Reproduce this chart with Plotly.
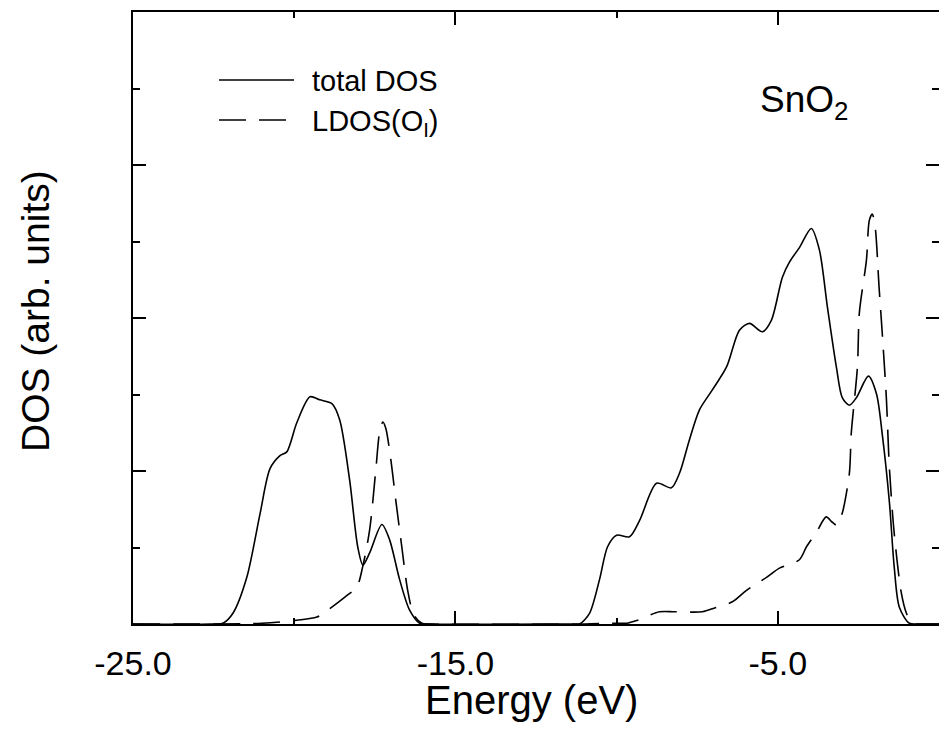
import plotly.graph_objects as go

# ---- data ----
total_energy = [-25.0, -22.6, -22.21, -21.90, -21.47, -21.06, -20.75, -20.44, -20.23, -19.92,
                -19.51, -19.21, -18.83, -18.59, -18.28, -18.03, -17.87, -17.66, -17.28,
                -17.04, -16.73, -16.42, -16.11, -15.8, -11.4,
                -11.15, -10.84, -10.53, -10.28, -10.0, -9.60, -9.29, -8.76, -8.30, -8.05,
                -7.74, -7.43, -7.03, -6.59, -6.19, -5.88, -5.48, -5.20, -4.86, -4.64,
                -4.33, -3.96, -3.71, -3.46, -3.18, -3.0, -2.78, -2.56, -2.19, -1.94,
                -1.76, -1.54, -1.39, -1.23, -0.92, -0.6, 0.0]
total_dos = [0.0, 0.0, 0.01, 0.14, 0.61, 1.44, 2.03, 2.20, 2.25, 2.63,
             2.97, 2.93, 2.88, 2.67, 1.88, 1.01, 0.77, 0.93, 1.30,
             1.10, 0.58, 0.18, 0.01, 0.0, 0.0,
             0.0, 0.14, 0.58, 1.01, 1.16, 1.14, 1.35, 1.84, 1.78, 1.97,
             2.41, 2.80, 3.06, 3.36, 3.84, 3.93, 3.82, 3.97, 4.53, 4.73,
             4.92, 5.17, 4.89, 4.14, 3.35, 2.96, 2.86, 2.96, 3.24, 3.01,
             2.48, 1.60, 0.75, 0.22, 0.01, 0.0, 0.0]

ldos_energy = [-25.0, -21.0, -19.92, -19.30, -18.96, -18.37, -18.06, -17.87, -17.66, -17.47,
               -17.35, -17.25, -17.16, -17.0, -16.85, -16.66, -16.48, -16.29, -16.04, -15.8,
               -11.0, -10.13, -9.69, -9.35, -8.67, -8.20, -7.34, -6.96, -6.41, -5.97,
               -5.35, -4.95, -4.33, -4.11, -3.80, -3.50, -3.31, -3.16, -3.00, -2.78,
               -2.72, -2.53, -2.47, -2.25, -2.16, -2.07, -1.98, -1.86, -1.76, -1.63,
               -1.54, -1.39, -1.17, -1.01, -0.83, -0.5, 0.0]
ldos_dos = [0.0, 0.01, 0.05, 0.09, 0.18, 0.37, 0.48, 0.76, 1.23, 2.01,
            2.51, 2.64, 2.56, 2.14, 1.62, 1.00, 0.44, 0.12, 0.01, 0.0,
            0.0, 0.01, 0.01, 0.05, 0.16, 0.16, 0.16, 0.21, 0.29, 0.44,
            0.61, 0.73, 0.84, 1.01, 1.20, 1.40, 1.33, 1.29, 1.45, 1.97,
            2.50, 3.36, 4.07, 4.76, 5.28, 5.36, 5.19, 4.41, 3.80, 2.93,
            2.05, 1.19, 0.41, 0.14, 0.01, 0.0, 0.0]

x_tickvals = [-25.0, -15.0, -5.0]
x_ticktext = ["-25.0", "-15.0", "-5.0"]
series_names = ["total DOS", "LDOS(O<sub>I</sub>)"]
compound = "SnO<sub>2</sub>"
x_title = "Energy (eV)"
y_title = "DOS (arb. units)"

FONT = "Liberation Sans"
DASH = "27px,13px"

fig = go.Figure()
fig.add_trace(go.Scatter(x=total_energy, y=total_dos, mode="lines", name=series_names[0],
                         line=dict(color="black", width=1.6, shape="spline", smoothing=0.8),
                         showlegend=False))
fig.add_trace(go.Scatter(x=ldos_energy, y=ldos_dos, mode="lines", name=series_names[1],
                         line=dict(color="black", width=1.6, dash=DASH, shape="spline", smoothing=0.8),
                         showlegend=False))

W, H = 939, 737
ml, mr, mt, mb = 133, 0, 12, 113
pw, ph = W - ml - mr, H - mt - mb

def px(xp):
    return (xp - ml) / pw

def py(yp):
    return (H - mb - yp) / ph

# legend samples
fig.add_shape(type="line", xref="paper", yref="paper", x0=px(219), x1=px(294), y0=py(80), y1=py(80),
              line=dict(color="black", width=1.6))
fig.add_shape(type="line", xref="paper", yref="paper", x0=px(219), x1=px(294), y0=py(120), y1=py(120),
              line=dict(color="black", width=1.6, dash=DASH))
fig.add_annotation(xref="paper", yref="paper", x=px(310), y=py(81), text=series_names[0],
                   showarrow=False, xanchor="left", yanchor="middle",
                   font=dict(family=FONT, size=29, color="black"))
fig.add_annotation(xref="paper", yref="paper", x=px(310), y=py(123), text=series_names[1],
                   showarrow=False, xanchor="left", yanchor="middle",
                   font=dict(family=FONT, size=29, color="black"))
fig.add_annotation(xref="paper", yref="paper", x=px(758), y=py(102), text=compound,
                   showarrow=False, xanchor="left", yanchor="middle",
                   font=dict(family=FONT, size=37, color="black"))
# axis titles
fig.add_annotation(xref="paper", yref="paper", x=px(531), y=py(700), text=x_title,
                   showarrow=False, xanchor="center", yanchor="middle",
                   font=dict(family=FONT, size=40, color="black"))
fig.add_annotation(xref="paper", yref="paper", x=px(35), y=py(311), text=y_title, textangle=-90,
                   showarrow=False, xanchor="center", yanchor="middle",
                   font=dict(family=FONT, size=39, color="black"))

fig.update_layout(
    width=W, height=H,
    margin=dict(l=ml, r=mr, t=mt, b=mb, pad=0),
    paper_bgcolor="white", plot_bgcolor="white",
    showlegend=False,
    font=dict(family=FONT, color="black"),
    xaxis=dict(range=[-25, 0], tickvals=x_tickvals, ticktext=x_ticktext,
               ticks="inside", ticklen=13, tickwidth=1.5, tickcolor="black",
               minor=dict(dtick=5, tick0=-25, ticks="inside", ticklen=6, tickwidth=1.5, tickcolor="black"),
               showline=True, linecolor="black", linewidth=1.6, mirror="allticks",
               showgrid=False, zeroline=False, automargin=False,
               tickfont=dict(family=FONT, size=34, color="black"),
               ticklabelstandoff=8),
    yaxis=dict(range=[0, 8], dtick=2, tick0=0,
               ticks="inside", ticklen=13, tickwidth=1.5, tickcolor="black",
               minor=dict(dtick=1, tick0=0, ticks="inside", ticklen=7, tickwidth=1.5, tickcolor="black"),
               showline=True, linecolor="black", linewidth=1.6, mirror="allticks",
               showgrid=False, zeroline=False, showticklabels=False, automargin=False),
)

fig.write_html("out.html", config={"displayModeBar": False},
               post_script="document.body.style.margin='0';")
